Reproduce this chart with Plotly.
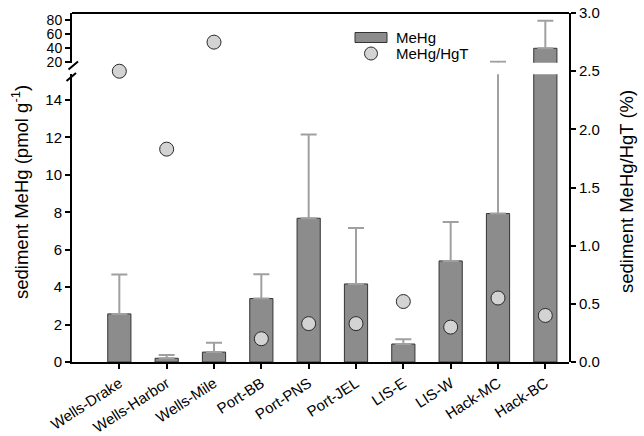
import plotly.graph_objects as go

sites = ["Wells-Drake", "Wells-Harbor", "Wells-Mile", "Port-BB", "Port-PNS",
         "Port-JEL", "LIS-E", "LIS-W", "Hack-MC", "Hack-BC"]
mehg = [2.57, 0.20, 0.53, 3.39, 7.68, 4.17, 0.96, 5.40, 7.93, 39.3]
mehg_err = [2.10, 0.17, 0.50, 1.30, 4.47, 2.99, 0.25, 2.08, 12.1, 39.7]
ratio = [2.50, 1.83, 2.75, 0.20, 0.33, 0.33, 0.52, 0.30, 0.55, 0.40]

lower_ticks = [0, 2, 4, 6, 8, 10, 12, 14]
upper_ticks = [20, 40, 60, 80]
right_ticks = [0.0, 0.5, 1.0, 1.5, 2.0, 2.5, 3.0]

FONT = "Liberation Sans, Arial, sans-serif"
BAR = "#8c8c8c"
BAR_LINE = "#333333"
ERR = "#a0a0a0"
DOT = "#d3d3d3"

W, H = 644, 436
PLOT_L, PLOT_R, PLOT_T, PLOT_B = 72, 569, 13, 362
PW, PH = PLOT_R - PLOT_L, PLOT_B - PLOT_T


def px(x):
    return (x - PLOT_L) / PW


def py(y):
    return (PLOT_B - y) / PH


fig = go.Figure()

err = dict(type="data", symmetric=False, array=mehg_err,
           arrayminus=[0] * len(mehg), color=ERR, thickness=2, width=8)

for yax in ("y", "y2"):
    fig.add_trace(go.Bar(x=sites, y=mehg, name="MeHg", width=0.49,
                         marker=dict(color=BAR, line=dict(color=BAR_LINE, width=1)),
                         error_y=err, xaxis="x", yaxis=yax, showlegend=False))
fig.add_trace(go.Scatter(x=sites, y=ratio, name="MeHg/HgT", mode="markers",
                         marker=dict(size=14, color=DOT,
                                     line=dict(color="#2a2a2a", width=1)),
                         xaxis="x", yaxis="y3", cliponaxis=False,
                         showlegend=False))

axis_common = dict(showgrid=False, zeroline=False, showline=True,
                   linecolor="black", linewidth=2, ticks="outside",
                   ticklen=5, tickwidth=2, tickcolor="black",
                   automargin=False, ticklabeloverflow="allow",
                   tickfont=dict(family=FONT, size=15, color="black"))

lower_top = py(74.3)
upper_bottom = py(62.7)

fig.update_layout(
    width=W, height=H,
    margin=dict(l=PLOT_L, r=W - PLOT_R, t=PLOT_T, b=H - PLOT_B),
    paper_bgcolor="white", plot_bgcolor="rgba(0,0,0,0)",
    barmode="overlay", showlegend=False,
    font=dict(family=FONT, size=15, color="black"),
    xaxis=dict(axis_common, type="category", range=[-1, 9.5], anchor="y",
               tickangle=-33, domain=[0, 1]),
    yaxis=dict(axis_common, domain=[0, lower_top], range=[0, 15.37],
               tickvals=lower_ticks, anchor="x"),
    yaxis2=dict(axis_common, domain=[upper_bottom, 1], range=[18.6, 90],
                tickvals=upper_ticks, anchor="x",
                tickfont=dict(family=FONT, size=14, color="black")),
    yaxis3=dict(axis_common, domain=[0, 1], range=[0, 3.0005], side="right",
                tickvals=right_ticks, tickformat=".1f", anchor="x"),
)

# top border
fig.add_shape(type="line", xref="paper", yref="paper", x0=0, x1=1, y0=1, y1=1,
              line=dict(color="black", width=2))
# break marks on left axis
fig.add_shape(type="line", xref="paper", yref="paper", x0=px(68.5), x1=px(78),
              y0=py(69.5), y1=py(61.5), line=dict(color="black", width=2))
fig.add_shape(type="line", xref="paper", yref="paper", x0=px(66.5), x1=px(76),
              y0=py(81), y1=py(73), line=dict(color="black", width=2))

# legend (drawn manually to match the wide bar swatch)
fig.add_shape(type="rect", xref="paper", yref="paper",
              x0=px(355), x1=px(387), y0=py(42.5), y1=py(32.5),
              fillcolor=BAR, line=dict(color=BAR_LINE, width=1))
fig.add_shape(type="circle", xref="paper", yref="paper",
              x0=px(364.5), x1=px(377.5), y0=py(60), y1=py(47),
              fillcolor=DOT, line=dict(color="#2a2a2a", width=1))
fig.add_annotation(text="MeHg", xref="paper", yref="paper", x=px(394),
                   y=py(37.5), xanchor="left", yanchor="middle",
                   showarrow=False, font=dict(family=FONT, size=15, color="black"))
fig.add_annotation(text="MeHg/HgT", xref="paper", yref="paper", x=px(394),
                   y=py(53.5), xanchor="left", yanchor="middle",
                   showarrow=False, font=dict(family=FONT, size=15, color="black"))

fig.add_annotation(text="sediment MeHg (pmol g<sup>-1</sup>)", textangle=-90,
                   xref="paper", yref="paper", x=0, y=py(192),
                   xanchor="center", yanchor="middle", xshift=-52,
                   showarrow=False,
                   font=dict(family=FONT, size=18.5, color="black"))
fig.add_annotation(text="sediment MeHg/HgT (%)", textangle=-90,
                   xref="paper", yref="paper", x=1, y=py(192),
                   xanchor="center", yanchor="middle", xshift=57,
                   showarrow=False,
                   font=dict(family=FONT, size=18.5, color="black"))

fig.write_html("out.html",
               config={"displayModeBar": False, "staticPlot": True},
               post_script="document.body.style.margin='0px';"
                           "document.body.style.overflow='hidden';")
